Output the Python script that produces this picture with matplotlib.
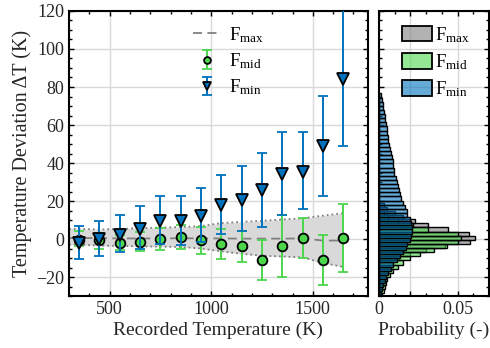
"""Temperature deviation vs recorded temperature with marginal histograms."""

import matplotlib

matplotlib.use("Agg")
import matplotlib.pyplot as plt
import numpy as np
from matplotlib.lines import Line2D
from matplotlib.patches import Patch
from matplotlib.ticker import MultipleLocator

plt.rcParams["font.family"] = ["Liberation Serif", "DejaVu Serif"]
plt.rcParams["mathtext.fontset"] = "custom"
plt.rcParams["mathtext.rm"] = "Liberation Serif"
plt.rcParams["mathtext.it"] = "Liberation Serif:italic"

# ---- data ----
temps = [350, 450, 550, 650, 750, 850, 950, 1050, 1150, 1250, 1350, 1450, 1550, 1650]

mid_val = [-0.3, -0.7, -2.1, -1.4, 0.0, 1.0, -0.7, -2.6, -3.9, -10.9, -3.9, 0.5, -10.9, 0.5]
mid_hi = [4.2, 3.3, 2.0, 3.7, 5.6, 7.4, 6.3, 5.3, 4.4, -0.4, 12.8, 11.2, 2.3, 18.6]
mid_lo = [-3.9, -5.3, -6.0, -6.5, -5.6, -5.1, -7.9, -10.5, -12.3, -21.8, -20.0, -10.0, -24.2, -17.6]

min_val = [-2.1, 0.0, 2.3, 5.4, 9.6, 9.6, 11.9, 17.9, 20.7, 25.6, 34.0, 35.3, 48.7, 84.2]
min_hi = [6.6, 9.6, 12.6, 17.2, 22.6, 22.6, 26.6, 33.7, 38.4, 45.4, 56.3, 56.3, 75.3, 125.0]
min_lo = [-10.5, -8.8, -6.8, -5.1, -2.6, -3.0, -1.6, 2.6, 4.4, 6.5, 12.4, 15.6, 22.6, 48.9]

fmax_x = [300, 350, 450, 550, 650, 750, 850, 950, 1050, 1150, 1250, 1350, 1450, 1550, 1650]
fmax_mean = [0.5, 0.5, 0.5, 0.3, 0.3, 0.3, 0.4, 0.3, 0.3, 0.2, 0.2, 0.2, 0.3, -0.8, -0.8]
fmax_upper = [5.3, 5.3, 5.0, 5.3, 5.7, 6.0, 6.3, 6.8, 8.4, 9.0, 9.6, 10.3, 10.9, 12.3, 13.6]
fmax_lower = [-3.0, -3.0, -3.5, -3.6, -3.9, -4.0, -4.2, -5.0, -6.5, -7.8, -8.8, -9.2, -9.7, -12.6, -14.7]

# histograms (probability per bin)
bin_w = 2.17
max_start = -30.78
max_prob = [0.001, 0.0015, 0.002, 0.0025, 0.003, 0.004, 0.005, 0.007, 0.009, 0.013, 0.02,
            0.03, 0.042, 0.058, 0.061, 0.057, 0.044, 0.031, 0.023, 0.015, 0.01, 0.005, 0.003]
mid_start = -30.78
mid_prob = [0.002, 0.003, 0.004, 0.0045, 0.005, 0.007, 0.009, 0.012, 0.015, 0.0196, 0.026,
            0.035, 0.043, 0.05, 0.052, 0.05, 0.031, 0.0215, 0.012, 0.006, 0.003]
min_start = -29.7
min_prob = [0.001, 0.0018, 0.0025, 0.0035, 0.0045, 0.006, 0.0075, 0.009, 0.0115, 0.0135,
            0.0155, 0.017, 0.018, 0.02, 0.0205, 0.021, 0.021, 0.0205, 0.0196, 0.018, 0.0175,
            0.0165, 0.0155, 0.0143, 0.0135, 0.0128, 0.012, 0.0115, 0.011, 0.0097, 0.0093,
            0.009, 0.0088, 0.0085, 0.0074, 0.007, 0.0065, 0.006, 0.0055, 0.005, 0.0048,
            0.0045, 0.004, 0.0038, 0.003, 0.0025, 0.0023, 0.0018, 0.001]

labels = [r"$\mathregular{F_{max}}$", r"$\mathregular{F_{mid}}$", r"$\mathregular{F_{min}}$"]

# ---- styling ----
blue = "#0072BD"
green = "#4CD64C"
gray_face = (0.5, 0.5, 0.5, 0.6)
green_face = (0.3, 0.85, 0.3, 0.6)
blue_face = (0.0, 0.447, 0.741, 0.6)
text_col = "#262626"


def style_axes(axis):
    axis.tick_params(which="both", direction="in", top=True, right=True,
                     colors="k", labelcolor=text_col, labelsize=13, width=1)
    axis.tick_params(which="major", length=3.5)
    axis.tick_params(which="minor", length=2.2)
    for spine in axis.spines.values():
        spine.set_linewidth(1.5)
    axis.grid(True, which="major", color="#d9d9d9", linewidth=1)
    axis.set_axisbelow(True)


fig = plt.figure(figsize=(4.9, 3.48), dpi=100)
ax = fig.add_axes([0.1408, 0.1494, 0.6096, 0.819])
axh = fig.add_axes([0.7735, 0.1494, 0.2245, 0.819], sharey=ax)

# main panel
ax.fill_between(fmax_x, fmax_lower, fmax_upper, color="#d9d9d9", lw=0, zorder=1)
ax.plot(fmax_x, fmax_upper, ":", color="#808080", lw=1.3, zorder=1.5)
ax.plot(fmax_x, fmax_lower, ":", color="#808080", lw=1.3, zorder=1.5)
ax.plot(fmax_x, fmax_mean, "--", color="#808080", lw=1.3, dashes=(5, 3), zorder=2)

mv = np.array(mid_val)
eb_mid = ax.errorbar(temps, mv, yerr=[mv - np.array(mid_lo), np.array(mid_hi) - mv],
                     fmt="o", color=green, mfc=green, mec="k", ms=7, mew=1.3,
                     elinewidth=1.4, capsize=3.6, capthick=1.4, zorder=3)
nv = np.array(min_val)
eb_min = ax.errorbar(temps, nv, yerr=[nv - np.array(min_lo), np.array(min_hi) - nv],
                     fmt="v", color=blue, mfc=blue, mec="k", ms=8.5, mew=1.3,
                     elinewidth=1.4, capsize=3.6, capthick=1.4, zorder=4)

ax.set_xlim(300, 1770)
ax.set_ylim(-30, 120)
ax.xaxis.set_major_locator(MultipleLocator(500))
ax.xaxis.set_minor_locator(MultipleLocator(100))
ax.yaxis.set_major_locator(MultipleLocator(20))
ax.yaxis.set_minor_locator(MultipleLocator(5))
style_axes(ax)
ax.set_xlabel("Recorded Temperature (K)", fontsize=14, color=text_col, labelpad=3)
ax.set_ylabel("Temperature Deviation ΔT (K)", fontsize=14.5, color=text_col, labelpad=3)

max_line = Line2D([], [], color="#808080", ls="--", lw=1.3, dashes=(5, 3))
ax.legend([max_line, eb_mid, eb_min], labels, loc="upper left",
          bbox_to_anchor=(0.36, 1.01), frameon=False, fontsize=13.5,
          handlelength=1.5, handletextpad=0.4, labelspacing=0.35, markerscale=0.7)

# histogram panel
for start, probs, face in [(max_start, max_prob, gray_face),
                           (mid_start, mid_prob, green_face),
                           (min_start, min_prob, blue_face)]:
    edges = start + bin_w * np.arange(len(probs))
    axh.barh(edges, probs, height=bin_w, align="edge", color=face,
             edgecolor="k", linewidth=1.0, zorder=2)

axh.set_xlim(0, 0.07)
axh.set_xticks([0, 0.02, 0.05])
axh.set_xticklabels(["0", "", "0.05"])
axh.xaxis.set_minor_locator(MultipleLocator(0.01))
style_axes(axh)
axh.tick_params(axis="y", labelleft=False)
axh.set_xlabel("Probability (-)", fontsize=14, color=text_col, labelpad=3)

patches = [Patch(facecolor=c, edgecolor="k", linewidth=1.3)
           for c in (gray_face, green_face, blue_face)]
axh.legend(patches, labels, loc="upper right", bbox_to_anchor=(0.98, 1.01),
           frameon=False, fontsize=13.5, handlelength=1.6, handleheight=0.9,
           handletextpad=0.15, labelspacing=0.4)

fig.savefig("out.png", dpi=100)
